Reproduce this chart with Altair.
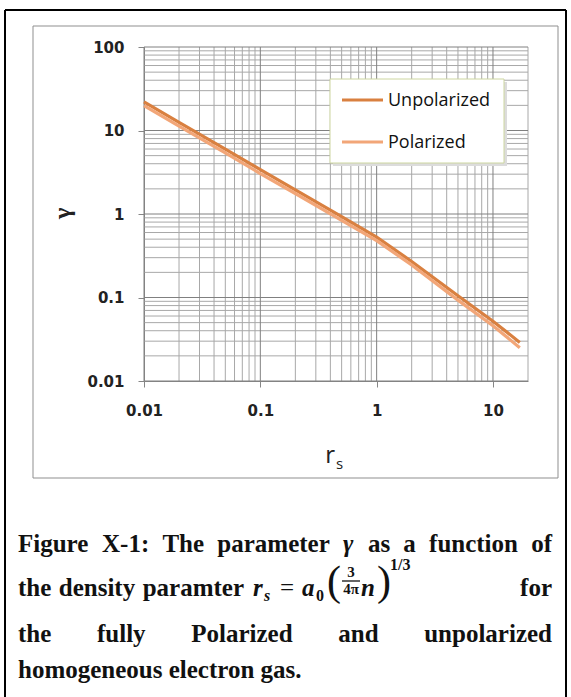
import altair as alt
import pandas as pd

# ---- data -----------------------------------------------------------------
rs = [0.01, 0.02, 0.05, 0.1, 0.2, 0.5, 1, 2, 5, 10, 17]
gamma_unpolarized = [22.0, 12.5, 6.0, 3.4, 1.95, 0.93, 0.53, 0.27, 0.105, 0.052, 0.029]
gamma_polarized = [19.8, 11.3, 5.4, 3.05, 1.76, 0.84, 0.48, 0.245, 0.093, 0.046, 0.025]
series_names = ["Unpolarized", "Polarized"]
series_colors = ["#d98040", "#f2a678"]
x_decades = [0.01, 0.1, 1, 10]
y_decades = [0.01, 0.1, 1, 10, 100]

# ---- layout (page pixels) ---------------------------------------------------
PAGE_W, PAGE_H = 571, 697
LEFT, TOP = 144, 47
PLOT_W, PLOT_H = 384, 334


def px(x):
    return x - LEFT


def py(y):
    return y - TOP


long = pd.DataFrame(
    {
        "rs": rs * 2,
        "gamma": gamma_unpolarized + gamma_polarized,
        "series": [series_names[0]] * len(rs) + [series_names[1]] * len(rs),
        "order": list(range(len(rs))) * 2,
    }
)

x_minor = sorted({round(k * d, 4) for d in x_decades for k in range(2, 10) if k * d <= 20})
y_minor = sorted({round(k * d, 4) for d in y_decades[:-1] for k in range(2, 10)})

xscale = alt.Scale(type="log", domain=[0.01, 20], nice=False)
yscale = alt.Scale(type="log", domain=[0.01, 100], nice=False)

label_font = "DejaVu Sans"
axis_common = dict(
    grid=False,
    domainColor="#868686",
    tickColor="#868686",
    tickSize=6,
    labelFont=label_font,
    labelFontSize=15,
    labelFontWeight="bold",
    labelColor="#222222",
    format="~g",
)
xaxis = alt.Axis(values=x_decades, labelPadding=16, title=None, labelFlush=False, **axis_common)
yaxis = alt.Axis(
    values=y_decades,
    labelPadding=14,
    title="γ",
    titleFont="Liberation Serif",
    titleFontSize=24,
    titleFontWeight="bold",
    titleColor="#222222",
    titleAngle=270,
    titleAlign="center",
    titleBaseline="middle",
    titleX=62 - LEFT,
    titleY=213 - TOP,
    **axis_common,
)

# ---- grid -------------------------------------------------------------------
vgrid_minor = alt.Chart(pd.DataFrame({"rs": x_minor})).mark_rule(color="#a8a8a8", strokeWidth=1).encode(
    x=alt.X("rs:Q", scale=xscale, axis=xaxis)
)
vgrid_major = alt.Chart(pd.DataFrame({"rs": x_decades})).mark_rule(color="#808080", strokeWidth=1).encode(
    x=alt.X("rs:Q", scale=xscale, axis=xaxis)
)
hgrid_minor = alt.Chart(pd.DataFrame({"gamma": y_minor})).mark_rule(color="#a8a8a8", strokeWidth=1).encode(
    y=alt.Y("gamma:Q", scale=yscale, axis=yaxis)
)
hgrid_major = alt.Chart(pd.DataFrame({"gamma": y_decades})).mark_rule(color="#808080", strokeWidth=1).encode(
    y=alt.Y("gamma:Q", scale=yscale, axis=yaxis)
)

# ---- curves -----------------------------------------------------------------
curves = alt.Chart(long).mark_line(strokeWidth=3.2, strokeCap="butt").encode(
    x=alt.X("rs:Q", scale=xscale, axis=xaxis),
    y=alt.Y("gamma:Q", scale=yscale, axis=yaxis),
    color=alt.Color("series:N", scale=alt.Scale(domain=series_names, range=series_colors), legend=None),
    detail="series:N",
    order="order:Q",
)


# ---- decorations ----------------------------------------------------------
def hline(x1, x2, y, color="black", width=2):
    return alt.Chart().mark_rule(color=color, strokeWidth=width).encode(
        x=alt.value(px(x1)), x2=alt.value(px(x2)), y=alt.value(py(y))
    )


def vline(x, y1, y2, color="black", width=2):
    return alt.Chart().mark_rule(color=color, strokeWidth=width).encode(
        x=alt.value(px(x)), y=alt.value(py(y1)), y2=alt.value(py(y2))
    )


def box(x1, y1, x2, y2, fill=None, stroke=None, width=1):
    kw = {}
    if fill is not None:
        kw["fill"] = fill
    else:
        kw["fillOpacity"] = 0
    if stroke is not None:
        kw["stroke"] = stroke
        kw["strokeWidth"] = width
    return alt.Chart().mark_rect(**kw).encode(
        x=alt.value(px(x1)), x2=alt.value(px(x2)), y=alt.value(py(y1)), y2=alt.value(py(y2))
    )


def text(s, x, y, size=25, align="left", font="Liberation Serif", weight="bold", style="normal",
         color="#111111", baseline="alphabetic"):
    return alt.Chart().mark_text(
        text=s, align=align, baseline=baseline, font=font, fontSize=size,
        fontWeight=weight, fontStyle=style, color=color,
    ).encode(x=alt.value(px(x)), y=alt.value(py(y)))


# advance widths of the bold serif face (per 1000 em), used to justify caption lines
SERIF_BOLD = {
    " ": 250, "-": 333, ".": 250, ":": 333, "1": 500, "F": 611, "P": 611, "T": 667, "X": 722,
    "a": 500, "c": 444, "d": 556, "e": 444, "f": 333, "g": 500, "h": 556, "i": 278, "l": 278,
    "m": 833, "n": 556, "o": 500, "p": 556, "r": 444, "s": 389, "t": 333, "u": 556, "y": 500,
    "z": 444, "γ": 470,
}


def width_of(word, size):
    return sum(SERIF_BOLD.get(c, 500) for c in word) * size / 1000.0


def justified(words, x0, x1, y, size=25, italic=()):
    total = sum(width_of(w, size) for w in words)
    gap = (x1 - x0 - total) / (len(words) - 1)
    marks, x = [], x0
    for w in words:
        marks.append(text(w, x, y, size=size, style="italic" if w in italic else "normal"))
        x += width_of(w, size) + gap
    return marks


frame = [
    hline(5, 566, 10),
    vline(5, 10, PAGE_H + 5),
    vline(566, 10, PAGE_H + 5),
    box(33, 26, 558, 478, stroke="#8f8f8f", width=1),
]

# x-axis title r_s
x_title = [
    text("r", 335, 463, size=24, font="Open Sans", weight="normal", align="right", color="#222222"),
    text("s", 336, 469, size=15, font="Open Sans", weight="normal", color="#222222"),
]

# legend
legend = [
    box(333, 82, 507, 166, fill="#dcdcdc"),
    box(330, 79, 504, 163, fill="white", stroke="#cdd6a0", width=1),
    hline(342, 383, 100, color=series_colors[0], width=3.2),
    hline(342, 383, 142, color=series_colors[1], width=3.2),
    text(series_names[0], 388, 106, size=18, font="Open Sans", weight="normal", color="#111111"),
    text(series_names[1], 388, 148, size=18, font="Open Sans", weight="normal", color="#111111"),
]

# caption
L1, L2, L3, L4 = 552, 596, 642, 678
caption = (
    justified(["Figure", "X-1:", "The", "parameter", "γ", "as", "a", "function", "of"], 18, 552, L1,
              italic=("γ",))
    + justified(["the", "density", "paramter"], 18, 244, L2)
    + [
        text("r", 253, L2, style="italic"),
        text("s", 264, L2 + 5, size=16, style="italic"),
        text("=", 280, L2, weight="normal"),
        text("a", 302, L2, style="italic"),
        text("0", 316, L2 + 5, size=16),
        text("(", 327, L2 - 1, size=42, weight="normal"),
        text("3", 351, L2 - 19, size=15, align="center"),
        hline(342, 360, L2 - 15, color="#111111", width=1.3),
        text("4π", 351, L2 - 2, size=15, align="center"),
        text("n", 361, L2, style="italic"),
        text(")", 377, L2 - 1, size=42, weight="normal"),
        text("1/3", 390, L2 - 26, size=16),
        text("for", 552, L2, align="right"),
    ]
    + justified(["the", "fully", "Polarized", "and", "unpolarized"], 18, 552, L3)
    + [text("homogeneous electron gas.", 18, L4)]
)

chart = alt.layer(
    *frame,
    vgrid_minor,
    hgrid_minor,
    vgrid_major,
    hgrid_major,
    curves,
    *x_title,
    *legend,
    *caption,
).properties(
    width=PLOT_W,
    height=PLOT_H,
    padding={"left": LEFT, "top": TOP, "right": PAGE_W - LEFT - PLOT_W, "bottom": PAGE_H - TOP - PLOT_H},
    autosize=alt.AutoSizeParams(type="none"),
    background="white",
).configure_view(stroke=None)

chart.save("out.html", embed_options={"renderer": "svg", "actions": False})
